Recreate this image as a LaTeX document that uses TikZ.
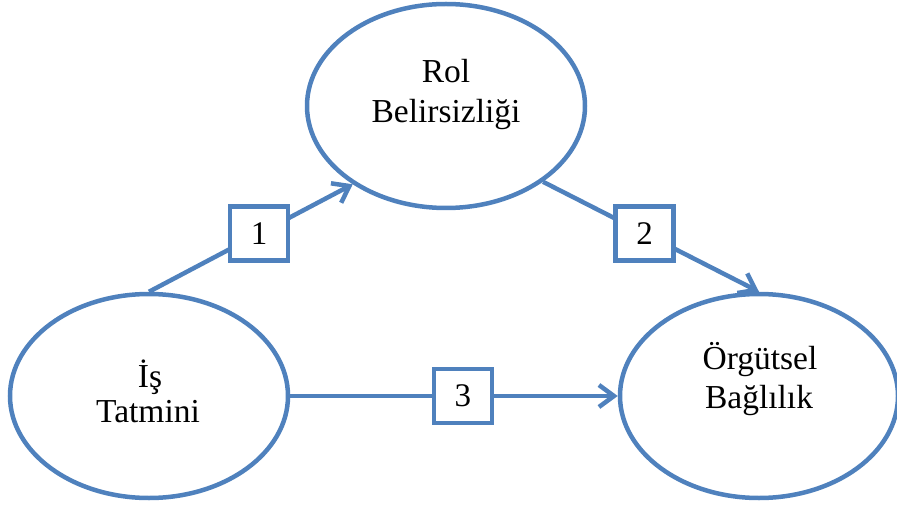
\documentclass[tikz,border=0pt]{standalone}
\usepackage{fontspec}
\setmainfont{Liberation Serif}
\usetikzlibrary{shapes.geometric,arrows.meta}
\definecolor{oblue}{RGB}{79,129,189}
\tikzset{
  ell/.style={ellipse,draw=oblue,line width=4.5pt,minimum width=278pt,minimum height=204pt,inner sep=0pt},
  lbl/.style={anchor=base,inner sep=0pt,font=\fontsize{33.5}{40}\selectfont},
  numbox/.style={draw=oblue,fill=white,line width=4.5pt,minimum width=58pt,minimum height=54pt,inner sep=0pt,font=\fontsize{33}{40}\selectfont},
  conn/.style={draw=oblue,line width=4.5pt,-{Straight Barb[length=15pt,width=22pt,line width=4.5pt]}}
}
\begin{document}
\begin{tikzpicture}[x=1pt,y=-1pt]
\useasboundingbox (0,0) rectangle (897,505);
\node[ell] (rol) at (446,106) {};
\node[ell] (iss) at (149,396) {};
\node[ell] (org) at (759,396) {};
\node[lbl] (rolA) at (446,83) {Rol};
\node[lbl] (rolB) at (446,123) {Belirsizliği};
\node[lbl] (issA) at (150,387) {İş};
\node[lbl] (issB) at (148,422) {Tatmini};
\node[lbl] (orgA) at (760,369) {Örgütsel};
\node[lbl] (orgB) at (759,408) {Bağlılık};
\draw[conn] (iss.north) -- node[numbox,pos=0.54] (n1) {1} (rol.220);
\draw[conn] (rol.322) -- node[numbox,pos=0.47] (n2) {2} (org.north);
\draw[conn] (iss.east) -- node[numbox,pos=0.527] (n3) {3} (org.west);
\end{tikzpicture}
\end{document}
